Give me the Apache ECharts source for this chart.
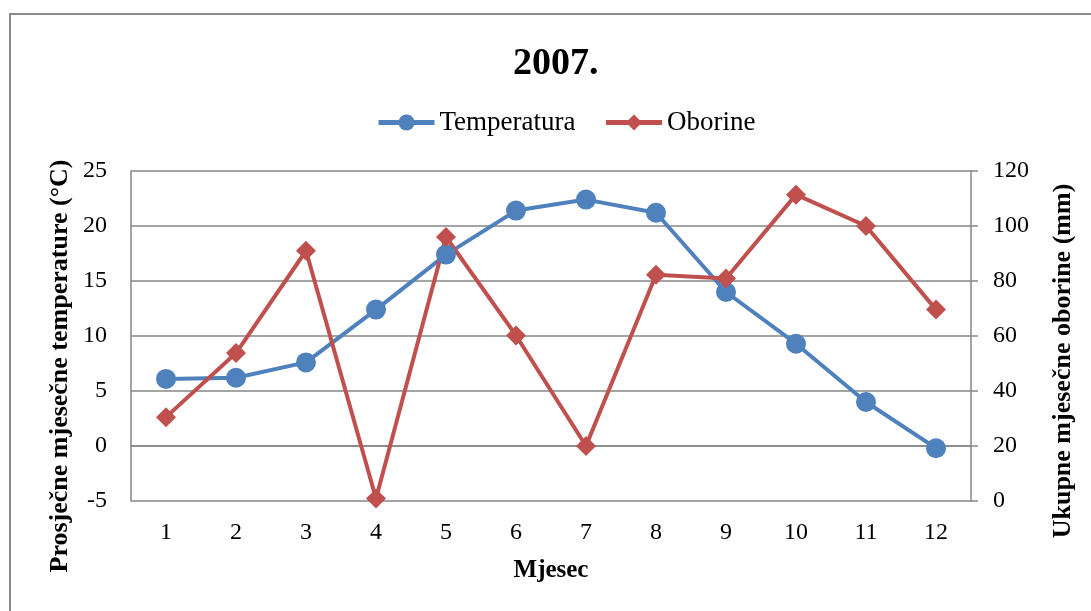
<!DOCTYPE html>
<html>
<head>
<meta charset="utf-8">
<script src="https://cdn.jsdelivr.net/npm/echarts@6/dist/echarts.min.js"></script>
<style>
  html, body { margin: 0; padding: 0; background: #fff; }
  #frame {
    position: absolute; left: 9px; top: 13px; width: 1200px; height: 700px;
    border: 2px solid #8c8c8c; box-sizing: border-box;
  }
  #chart { position: absolute; left: 0; top: 0; width: 1091px; height: 611px; }
</style>
</head>
<body>
<div id="frame"></div>
<div id="chart"></div>
<script>
// Data
const months = ["1", "2", "3", "4", "5", "6", "7", "8", "9", "10", "11", "12"];
const temperature = [6.1, 6.2, 7.6, 12.4, 17.4, 21.4, 22.4, 21.2, 14.0, 9.3, 4.0, -0.2];
const precipitation = [30.5, 53.8, 91.0, 0.9, 96.0, 60.2, 20.0, 82.3, 80.9, 111.4, 100.0, 69.6];

const font = '"Liberation Serif", "Times New Roman", serif';
const gridColor = "#868686";
const blue = "#4F81BD";
const red = "#C0504D";

const chart = echarts.init(document.getElementById("chart"));

const option = {
  animation: false,
  textStyle: { fontFamily: font, color: "#000" },
  title: {
    text: "2007.",
    left: 508,
    top: 40,
    textStyle: { fontFamily: font, fontSize: 38, fontWeight: "bold", color: "#000" },
  },
  legend: {
    top: 109,
    left: 376,
    padding: 0,
    itemWidth: 56,
    itemHeight: 20,
    itemGap: 28,
    lineStyle: { width: 5 },
    textStyle: { fontFamily: font, fontSize: 27, color: "#000" },
    data: ["Temperatura", "Oborine"],
  },
  grid: {
    left: 131,
    right: 120,
    top: 171,
    height: 330,
    containLabel: false,
  },
  xAxis: {
    type: "category",
    data: months,
    boundaryGap: true,
    axisLine: { lineStyle: { color: gridColor, width: 1.5 } },
    axisTick: { show: false },
    axisLabel: { fontFamily: font, fontSize: 24, color: "#000", margin: 20 },
  },
  yAxis: [
    {
      type: "value",
      min: -5,
      max: 25,
      interval: 5,
      axisLine: { show: true, lineStyle: { color: gridColor, width: 1.5 } },
      axisTick: { show: false },
      axisLabel: { fontFamily: font, fontSize: 24, color: "#000", margin: 24 },
      splitLine: { lineStyle: { color: gridColor, width: 1.5 } },
    },
    {
      type: "value",
      min: 0,
      max: 120,
      interval: 20,
      position: "right",
      axisLine: { show: true, lineStyle: { color: gridColor, width: 1.5 } },
      axisTick: { show: true, length: 7, lineStyle: { color: gridColor, width: 1.5 } },
      axisLabel: { fontFamily: font, fontSize: 24, color: "#000", margin: 22 },
      splitLine: { show: false },
    },
  ],
  graphic: [
    {
      type: "text",
      x: 60,
      y: 366,
      rotation: Math.PI / 2,
      style: {
        text: "Prosječne mjesečne temperature (°C)",
        font: "bold 26px " + font,
        fill: "#000",
        align: "center",
        verticalAlign: "middle",
      },
    },
    {
      type: "text",
      x: 1063,
      y: 361,
      rotation: Math.PI / 2,
      style: {
        text: "Ukupne mjesečne oborine (mm)",
        font: "bold 26px " + font,
        fill: "#000",
        align: "center",
        verticalAlign: "middle",
      },
    },
    {
      type: "text",
      x: 551,
      y: 571,
      style: {
        text: "Mjesec",
        font: "bold 25px " + font,
        fill: "#000",
        align: "center",
        verticalAlign: "middle",
      },
    },
  ],
  series: [
    {
      name: "Temperatura",
      type: "line",
      yAxisIndex: 0,
      data: temperature,
      symbol: "circle",
      symbolSize: 20,
      color: blue,
      lineStyle: { width: 4, color: blue },
      itemStyle: { color: blue },
    },
    {
      name: "Oborine",
      type: "line",
      yAxisIndex: 1,
      data: precipitation,
      symbol: "diamond",
      symbolSize: 20,
      color: red,
      lineStyle: { width: 4, color: red },
      itemStyle: { color: red },
    },
  ],
};

chart.setOption(option);
</script>
</body>
</html>
